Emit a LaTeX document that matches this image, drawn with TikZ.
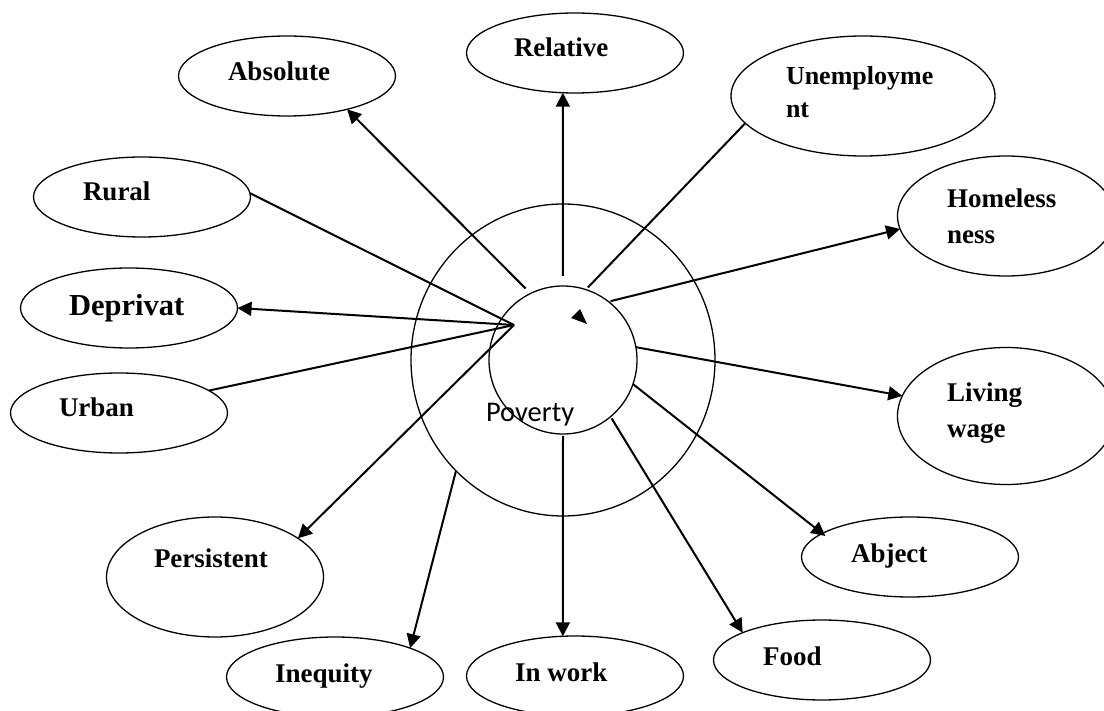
\documentclass[tikz,border=0pt]{standalone}
\usepackage{fontspec}
\setmainfont{Liberation Serif}
\newfontfamily\calibri{Carlito}
\usetikzlibrary{arrows.meta,shapes.geometric}

\begin{document}
\begin{tikzpicture}[x=1pt,y=-1pt,>={Triangle[length=14pt,width=14pt]},line width=2pt,
  topic node/.style={ellipse,draw,line width=1.3pt,inner sep=0pt,outer sep=0pt,minimum width=217pt,minimum height=80pt},
  label node/.style={anchor=base west,inner sep=0pt,align=left,font=\bfseries\fontsize{27}{36}\selectfont}]

  \useasboundingbox (0,0) rectangle (1104,711);

  % centre
  \node[ellipse,draw,line width=1.3pt,inner sep=0pt,outer sep=0pt,minimum width=304pt,minimum height=312pt] (ring) at (563,360) {};
  \node[circle,draw,line width=1.3pt,inner sep=0pt,outer sep=0pt,minimum size=148pt] (core) at (563,360) {};
  \node[anchor=base west,inner sep=0pt,font=\calibri\fontsize{28.5}{34}\selectfont] (tpov) at (485,422) {Poverty};
  \coordinate (hub) at (514,325);
  \fill (580,309) -- (571,318) -- (587,324) -- cycle;

  % topics
  \node[topic node] (abs) at (287,76) {};
  \node[topic node] (rel) at (575,53) {};
  \node[topic node,minimum width=264pt,minimum height=120pt] (unemp) at (863,96) {};
  \node[topic node] (rur) at (142,197) {};
  \node[topic node] (dep) at (129,308) {};
  \node[topic node] (urb) at (119,413) {};
  \node[topic node,minimum height=120pt] (home) at (1006,216) {};
  \node[topic node,minimum height=137pt] (liv) at (1006,416) {};
  \node[topic node,minimum height=120pt] (per) at (215,577) {};
  \node[topic node] (abj) at (910,557) {};
  \node[topic node] (ineq) at (335,677) {};
  \node[topic node] (inw) at (575,676) {};
  \node[topic node] (food) at (822,660) {};

  % texts (base of the last line)
  \node[label node] (tabs) at (227,81) {Absolute};
  \node[label node] (trel) at (513,57) {Relative};
  \node[label node,font=\bfseries\fontsize{26}{33}\selectfont] (tunemp) at (785,118) {Unemployme\\nt};
  \node[label node] (trur) at (82,201) {Rural};
  \node[label node,font=\bfseries\fontsize{30.5}{36}\selectfont] (tdep) at (68,316) {Deprivat};
  \node[label node] (turb) at (58,417) {Urban};
  \node[label node] (thome) at (946,244) {Homeless\\ness};
  \node[label node] (tliv) at (946,438) {Living\\wage};
  \node[label node] (tper) at (153,567) {Persistent};
  \node[label node] (tabj) at (850,562) {Abject};
  \node[label node] (tineq) at (274,682) {Inequity};
  \node[label node] (tinw) at (514,681) {In work};
  \node[label node] (tfood) at (762,665) {Food};

  \path[->]
    (core.116) edge[shorten <=7pt] (abs.-29)
    (core.90) edge[shorten <=10pt] (rel.-107)
    (core.52) edge[shorten <=2pt] (home.187)
    (core.10) edge (liv.169)
    (core.-19) edge[shorten >=-4pt] (abj.165)
    (core.-50) edge[shorten <=2pt] (food.161)
    (core.-90) edge[shorten <=2pt] (inw.107)
    (ring.226) edge (ineq.21)
    (hub) edge (dep.0)
    (hub) edge (per.25);

  \path
    (core.72) edge[shorten <=3pt] (unemp.-167)
    (hub) edge (rur.2)
    (hub) edge (urb.14);

\end{tikzpicture}
\end{document}
